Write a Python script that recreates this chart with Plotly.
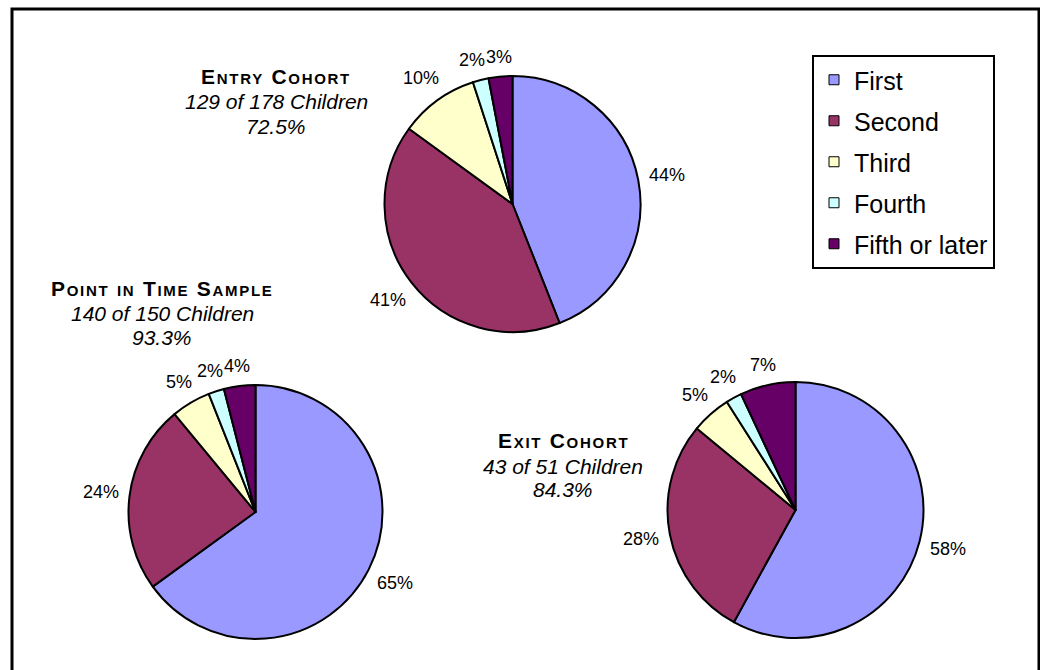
import math
import plotly.graph_objects as go

# Birth-order categories and colours
categories = ["First", "Second", "Third", "Fourth", "Fifth or later"]
colors = ["#9999FF", "#993366", "#FFFFCC", "#CCFFFF", "#660066"]

# Percent of children in each birth-order group, per sample
entry_pct = [44, 41, 10, 2, 3]
point_pct = [65, 24, 5, 2, 4]
exit_pct = [58, 28, 5, 2, 7]

FONT = "Liberation Sans, Arial, sans-serif"
W, H = 1040, 670
LABEL_SIZE = 18


def px_domain(cx, cy, r):
    """Pie domain in paper coords from a centre/radius given in pixels."""
    return dict(x=[(cx - r) / W, (cx + r) / W],
                y=[1 - (cy + r) / H, 1 - (cy - r) / H])


def pie(values, cx, cy, r):
    return go.Pie(
        labels=categories,
        values=values,
        sort=False,
        direction="clockwise",
        rotation=0,
        domain=px_domain(cx, cy, r),
        marker=dict(colors=colors, line=dict(color="black", width=2)),
        textinfo="none",
        hoverinfo="label+percent",
        showlegend=False,
    )


def pie_labels(values, cx, cy, r, gap=10):
    """Percent labels just outside each slice, along its mid-angle."""
    total = float(sum(values))
    items = []
    cum = 0.0
    for v in values:
        mid = (cum + v / 2.0) / total * 2 * math.pi
        cum += v
        ux, uy = math.sin(mid), -math.cos(mid)
        text = f"{v}%"
        w = LABEL_SIZE * (0.556 * (len(text) - 1) + 0.889)
        h = LABEL_SIZE * 0.9
        d = r + gap + abs(ux) * w / 2 + abs(uy) * h / 2
        items.append([cx + d * ux, cy + d * uy, w, h, text, ux])
    # nudge neighbouring labels apart when they collide
    for i in range(len(items) - 2, -1, -1):
        a, b = items[i], items[i + 1]
        need = (a[2] + b[2]) / 2 + 1
        if abs(a[0] - b[0]) < need and abs(a[1] - b[1]) < (a[3] + b[3]) / 2:
            if a[5] < 0:
                a[0] = b[0] - need
            else:
                a[0] = b[0] + need
    return [dict(x=x / W, y=1 - y / H, xref="paper", yref="paper", text=t,
                 showarrow=False, xanchor="center", yanchor="middle",
                 font=dict(family=FONT, size=LABEL_SIZE, color="black"))
            for x, y, w, h, t, _ in items]


PIES = [
    (entry_pct, 512.5, 204, 128),
    (point_pct, 255.5, 512, 127),
    (exit_pct, 795.5, 510, 128),
]

fig = go.Figure()
annotations = []
for vals, cx, cy, r in PIES:
    fig.add_trace(pie(vals, cx, cy, r))
    annotations += pie_labels(vals, cx, cy, r)

# Legend entries (one group per category so the row spacing can be set)
for name, col in zip(categories, colors):
    fig.add_trace(go.Scatter(
        x=[None], y=[None], mode="markers", name=name,
        legendgroup=name,
        marker=dict(symbol="square", size=10, color=col,
                    line=dict(color="black", width=1)),
    ))


def small_caps(title, big=21, small=15, spacing=1.7):
    out = []
    for ch in title:
        if ch.islower():
            out.append(f"<span style='font-size:{small}px'>{ch.upper()}</span>")
        else:
            out.append(ch)
    return (f"<b><span style='letter-spacing:{spacing}px'>" + "".join(out)
            + "</span></b>")


def title_block(cx, baselines, title, count_line, pct_line):
    lines = [small_caps(title), f"<i>{count_line}</i>", f"<i>{pct_line}</i>"]
    return [dict(x=cx / W, y=1 - (base - 7) / H, xref="paper", yref="paper",
                 text=txt, showarrow=False, xanchor="center", yanchor="middle",
                 font=dict(family=FONT, size=21, color="black"))
            for txt, base in zip(lines, baselines)]


annotations += title_block(276, [83, 108, 133], "Entry Cohort", "129 of 178 Children", "72.5%")
annotations += title_block(162, [295, 320, 344], "Point in Time Sample", "140 of 150 Children", "93.3%")
annotations += title_block(563, [447, 473, 496], "Exit Cohort", "43 of 51 Children", "84.3%")

fig.update_layout(
    width=W, height=H,
    margin=dict(l=0, r=0, t=0, b=0),
    paper_bgcolor="white",
    plot_bgcolor="white",
    font=dict(family=FONT, color="black"),
    xaxis=dict(visible=False),
    yaxis=dict(visible=False),
    annotations=annotations,
    legend=dict(
        x=812 / W, y=1 - 55 / H, xanchor="left", yanchor="top",
        bordercolor="black", borderwidth=2, bgcolor="white",
        font=dict(family=FONT, size=25, color="black"),
        tracegroupgap=5.5, traceorder="grouped",
    ),
    shapes=[dict(
        type="rect", xref="paper", yref="paper",
        x0=12 / W, x1=1039 / W, y0=-0.05, y1=1 - 9 / H,
        line=dict(color="black", width=3), fillcolor="rgba(0,0,0,0)",
    )],
)

fig.write_html("out.html")
